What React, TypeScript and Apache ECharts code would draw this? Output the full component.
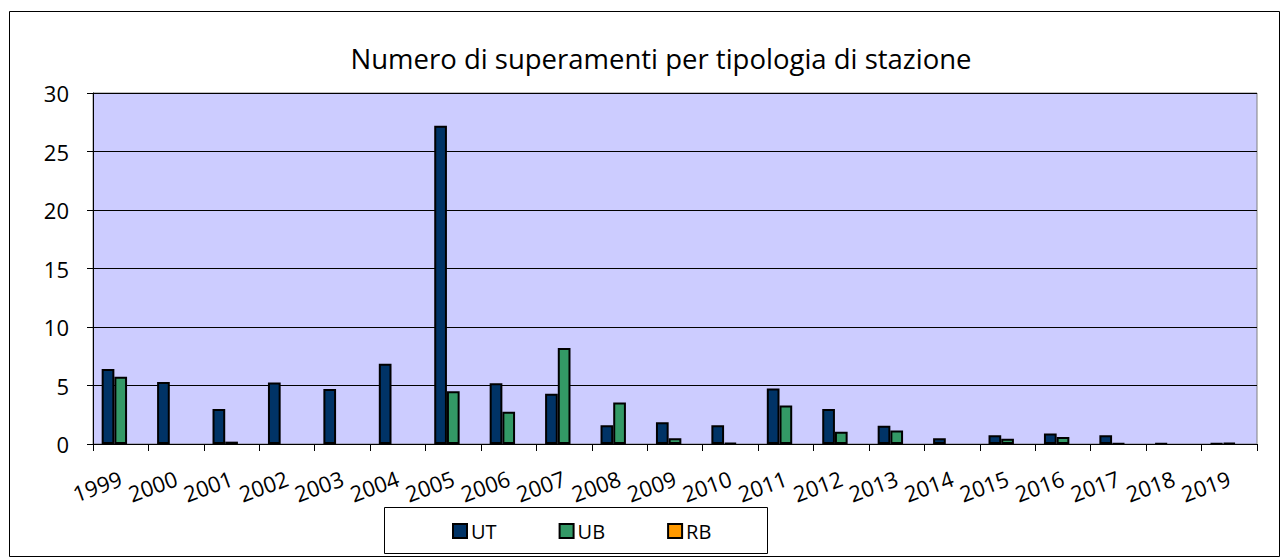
import React, { useEffect, useRef } from "react";
import * as echarts from "echarts";

const years = ["1999","2000","2001","2002","2003","2004","2005","2006","2007","2008","2009","2010","2011","2012","2013","2014","2015","2016","2017","2018","2019"];
const utValues = [6.4, 5.3, 3.0, 5.25, 4.7, 6.85, 27.2, 5.2, 4.3, 1.6, 1.85, 1.6, 4.75, 3.0, 1.55, 0.5, 0.75, 0.9, 0.75, 0.05, 0.05];
const ubValues = [5.75, 0, 0.2, 0, 0, 0, 4.5, 2.75, 8.2, 3.55, 0.5, 0.1, 3.3, 1.05, 1.15, 0, 0.45, 0.6, 0.05, 0, 0.1];
const rbValues = [0, 0, 0, 0, 0, 0, 0, 0, 0, 0, 0, 0, 0, 0, 0, 0, 0, 0, 0, 0, 0];
const yTicks = { min: 0, max: 30, interval: 5 };

const FONT = "'Open Sans', 'Noto Sans', sans-serif";

const toItems = (vals: number[]) =>
  vals.map((v) => (v === 0 ? { value: 0, itemStyle: { borderWidth: 0, opacity: 0 } } : v));

export default function App() {
  const ref = useRef<HTMLDivElement>(null);
  useEffect(() => {
    if (!ref.current) return;
    const chart = echarts.init(ref.current, undefined, { renderer: "svg" });
    const barStyle = (color: string) => ({ color, borderColor: "#000", borderWidth: 2 });
    chart.setOption({
      animation: false,
      backgroundColor: "#fff",
      title: {
        text: "Numero di superamenti per tipologia di stazione",
        left: 656,
        top: 39,
        textAlign: "center",
        textStyle: { fontFamily: FONT, fontSize: 27.5, fontWeight: "normal", color: "#000" },
      },
      graphic: [
        { type: "rect", shape: { x: 9.5, y: 11.5, width: 1270, height: 545 }, style: { fill: "none", stroke: "#000", lineWidth: 1 }, silent: true },
        { type: "rect", shape: { x: 384.5, y: 507.5, width: 383, height: 46 }, style: { fill: "#fff", stroke: "#000", lineWidth: 1 }, silent: true, z: 0 },
      ],
      legend: {
        left: 447,
        top: 516,
        itemWidth: 14,
        itemHeight: 14,
        itemGap: 62,
        icon: "rect",
        textStyle: { fontFamily: FONT, fontSize: 20, color: "#000", padding: [0, 0, 0, -1] },
        data: ["UT", "UB", "RB"],
        z: 5,
      },
      grid: {
        left: 93,
        right: 1282 - 1257,
        top: 93,
        bottom: 559 - 444,
        show: true,
        backgroundColor: "#CCCCFF",
        borderColor: "#808080",
        borderWidth: 1,
      },
      xAxis: {
        type: "category",
        data: years,
        axisLine: { show: true, lineStyle: { color: "#000", width: 1 } },
        axisTick: { show: true, length: 7, lineStyle: { color: "#000" } },
        axisLabel: { interval: 0, rotate: 20, margin: 33, fontFamily: FONT, fontSize: 22, color: "#000" },
      },
      yAxis: {
        type: "value",
        min: yTicks.min,
        max: yTicks.max,
        interval: yTicks.interval,
        axisLine: { show: true, lineStyle: { color: "#000", width: 1 } },
        axisTick: { show: true, length: 6, lineStyle: { color: "#000" } },
        axisLabel: { margin: 24, fontFamily: FONT, fontSize: 22, color: "#000" },
        splitLine: { show: true, lineStyle: { color: "#000", width: 1 } },
      },
      series: [
        { name: "UT", type: "bar", data: toItems(utValues), barWidth: 12.7, barGap: "0%", itemStyle: barStyle("#003366") },
        { name: "UB", type: "bar", data: toItems(ubValues), barWidth: 12.7, barGap: "0%", itemStyle: barStyle("#339966") },
        { name: "RB", type: "bar", data: toItems(rbValues), barWidth: 12.7, barGap: "0%", itemStyle: barStyle("#FF9900") },
      ],
    });
    return () => chart.dispose();
  }, []);
  return <div ref={ref} style={{ position: "fixed", left: 0, top: 0, width: 1282, height: 559 }} />;
}
